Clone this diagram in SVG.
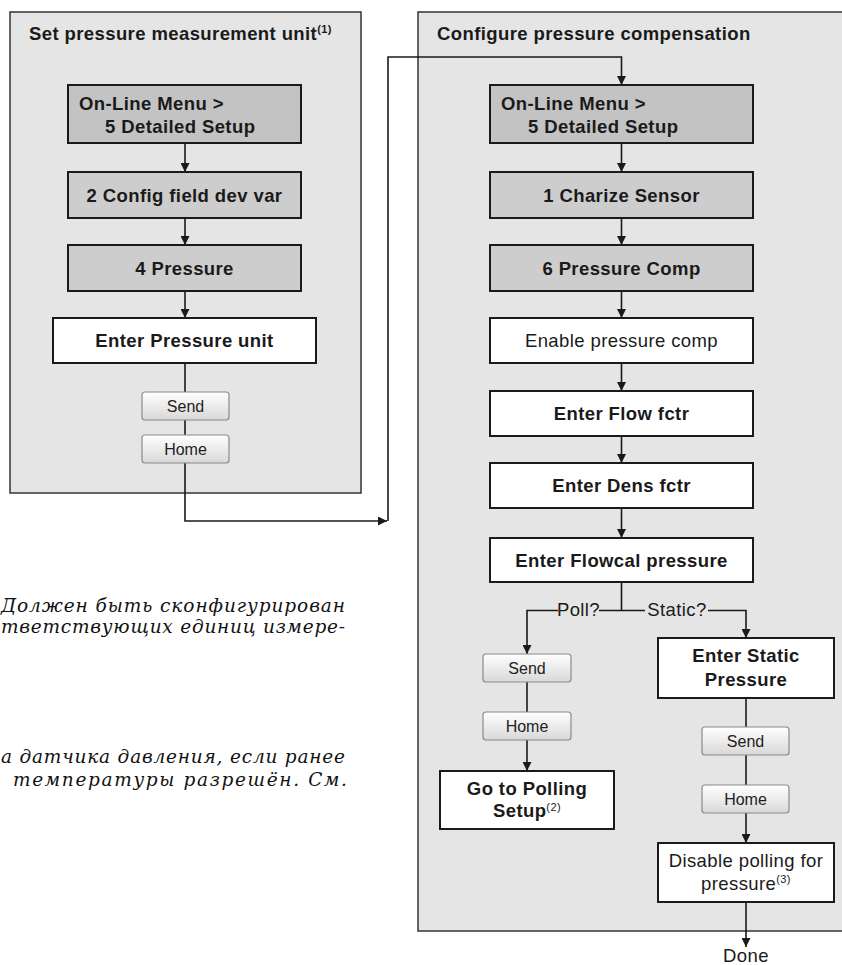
<svg xmlns="http://www.w3.org/2000/svg" width="842" height="965" viewBox="0 0 842 965">
<style>
.panel{fill:#e5e5e5;stroke:#333;stroke-width:1.5}
.g1{fill:#c3c3c3;stroke:#1a1a1a;stroke-width:2}
.g2{fill:#cdcdcd;stroke:#1a1a1a;stroke-width:2}
.wb{fill:#fff;stroke:#1a1a1a;stroke-width:2}
.btn{fill:url(#bg);stroke:#8a8a8a;stroke-width:1.2}
text{font-family:"Liberation Sans",Arial,sans-serif;fill:#1a1a1a}
.b{font-size:18.5px;font-weight:bold;letter-spacing:0.4px}
.r{font-size:18.5px;letter-spacing:0.4px}
.c{text-anchor:middle}
.bt{font-size:16px;text-anchor:middle;fill:#222}
.sup{font-size:11px}
.ru{font-family:"DejaVu Serif","Liberation Serif",serif;font-style:italic;font-size:18.5px;fill:#111}
.ln{fill:none;stroke:#1a1a1a;stroke-width:1.6}
</style>
<defs>
<linearGradient id="bg" x1="0" y1="0" x2="0" y2="1"><stop offset="0" stop-color="#ffffff"/><stop offset="1" stop-color="#d8d8d8"/></linearGradient>
<marker id="ah" markerUnits="userSpaceOnUse" markerWidth="9" markerHeight="9" refX="9" refY="4.5" orient="auto"><path d="M0,0 L9,4.5 L0,9 z" fill="#1a1a1a"/></marker>
</defs>

<g id="panel-left">
<rect class="panel" x="10" y="12" width="351" height="481"/>
<text class="b" x="29" y="40">Set pressure measurement unit<tspan class="sup" font-size="12px" dy="-7">(1)</tspan></text>
</g>
<g id="panel-right">
<rect class="panel" x="418" y="12" width="440" height="919"/>
<text class="b" x="437" y="40">Configure pressure compensation</text>
</g>

<g id="notes">
<text class="ru" x="1" y="612" textLength="344" lengthAdjust="spacing">Должен быть сконфигурирован</text>
<text class="ru" x="1" y="633" textLength="344" lengthAdjust="spacing">тветствующих единиц измере-</text>
<text class="ru" x="1" y="763" textLength="344" lengthAdjust="spacing">а датчика давления, если ранее</text>
<text class="ru" x="13" y="786" textLength="334" lengthAdjust="spacing">температуры разрешён. См.</text>
</g>

<g id="connectors">
<path class="ln" d="M185,143 V172" marker-end="url(#ah)"/>
<path class="ln" d="M185,218 V245" marker-end="url(#ah)"/>
<path class="ln" d="M185,291 V318" marker-end="url(#ah)"/>
<path class="ln" d="M185,363 V392"/>
<path class="ln" d="M185,420 V435"/>
<path class="ln" d="M185,463 V521 H387" marker-end="url(#ah)"/>
<path class="ln" d="M388,521 V57 H621.5 V85" marker-end="url(#ah)"/>
<path class="ln" d="M621.5,143 V172" marker-end="url(#ah)"/>
<path class="ln" d="M621.5,218 V245" marker-end="url(#ah)"/>
<path class="ln" d="M621.5,291 V318" marker-end="url(#ah)"/>
<path class="ln" d="M621.5,363 V391" marker-end="url(#ah)"/>
<path class="ln" d="M621.5,436 V463" marker-end="url(#ah)"/>
<path class="ln" d="M621.5,508 V538" marker-end="url(#ah)"/>
<path class="ln" d="M621.5,582 V610.5"/>
<path class="ln" d="M599,610.5 H645"/>
<path class="ln" d="M558,610.5 H527 V654" marker-end="url(#ah)"/>
<path class="ln" d="M708,610.5 H746 V638" marker-end="url(#ah)"/>
<path class="ln" d="M527,682 V712"/>
<path class="ln" d="M527,740 V771" marker-end="url(#ah)"/>
<path class="ln" d="M746,698 V727"/>
<path class="ln" d="M746,755 V785"/>
<path class="ln" d="M746,813 V843" marker-end="url(#ah)"/>
<path class="ln" d="M746,902 V947" marker-end="url(#ah)"/>
<text class="r c" x="578.5" y="616">Poll?</text>
<text class="r c" x="677" y="616">Static?</text>
</g>

<g id="l-online">
<rect class="g1" x="68" y="85" width="233" height="58"/>
<text class="b" x="79" y="110">On-Line Menu &gt;</text>
<text class="b" x="105" y="133">5 Detailed Setup</text>
</g>
<g id="l-config">
<rect class="g2" x="68" y="172" width="233" height="46"/>
<text class="b c" x="184.5" y="201.5">2 Config field dev var</text>
</g>
<g id="l-pressure">
<rect class="g2" x="68" y="245" width="233" height="46"/>
<text class="b c" x="184.5" y="274.5">4 Pressure</text>
</g>
<g id="l-unit">
<rect class="wb" x="53" y="318" width="263" height="45"/>
<text class="b c" x="184.5" y="347">Enter Pressure unit</text>
</g>
<g id="l-send">
<rect class="btn" x="142" y="392" width="87" height="28" rx="3"/>
<text class="bt" x="185.5" y="411.5">Send</text>
</g>
<g id="l-home">
<rect class="btn" x="142" y="435" width="87" height="28" rx="3"/>
<text class="bt" x="185.5" y="454.5">Home</text>
</g>

<g id="r-online">
<rect class="g1" x="490" y="85" width="263" height="58"/>
<text class="b" x="501" y="110">On-Line Menu &gt;</text>
<text class="b" x="528" y="133">5 Detailed Setup</text>
</g>
<g id="r-charize">
<rect class="g2" x="490" y="172" width="263" height="46"/>
<text class="b c" x="621.5" y="201.5">1 Charize Sensor</text>
</g>
<g id="r-pcomp">
<rect class="g2" x="490" y="245" width="263" height="46"/>
<text class="b c" x="621.5" y="274.5">6 Pressure Comp</text>
</g>
<g id="r-enable">
<rect class="wb" x="490" y="318" width="263" height="45"/>
<text class="r c" x="621.5" y="347">Enable pressure comp</text>
</g>
<g id="r-flow">
<rect class="wb" x="490" y="391" width="263" height="45"/>
<text class="b c" x="621.5" y="420">Enter Flow fctr</text>
</g>
<g id="r-dens">
<rect class="wb" x="490" y="463" width="263" height="45"/>
<text class="b c" x="621.5" y="492">Enter Dens fctr</text>
</g>
<g id="r-flowcal">
<rect class="wb" x="490" y="538" width="263" height="44"/>
<text class="b c" x="621.5" y="566.5">Enter Flowcal pressure</text>
</g>
<g id="r-send1">
<rect class="btn" x="483" y="654" width="88" height="28" rx="3"/>
<text class="bt" x="527" y="673.5">Send</text>
</g>
<g id="r-home1">
<rect class="btn" x="483" y="712" width="88" height="28" rx="3"/>
<text class="bt" x="527" y="731.5">Home</text>
</g>
<g id="r-polling">
<rect class="wb" x="440" y="771" width="174" height="58"/>
<text class="b c" x="527" y="795">Go to Polling</text>
<text class="b c" x="527" y="817">Setup<tspan class="sup" font-weight="normal" dy="-6">(2)</tspan></text>
</g>
<g id="r-static">
<rect class="wb" x="658" y="638" width="176" height="60"/>
<text class="b c" x="746" y="662">Enter Static</text>
<text class="b c" x="746" y="686">Pressure</text>
</g>
<g id="r-send2">
<rect class="btn" x="702" y="727" width="87" height="28" rx="3"/>
<text class="bt" x="745.5" y="746.5">Send</text>
</g>
<g id="r-home2">
<rect class="btn" x="702" y="785" width="87" height="28" rx="3"/>
<text class="bt" x="745.5" y="804.5">Home</text>
</g>
<g id="r-disable">
<rect class="wb" x="658" y="843" width="176" height="59"/>
<text class="r c" x="746" y="867">Disable polling for</text>
<text class="r c" x="746" y="890">pressure<tspan class="sup" dy="-7">(3)</tspan></text>
</g>
<g id="done">
<text class="r c" x="746" y="962">Done</text>
</g>
</svg>
